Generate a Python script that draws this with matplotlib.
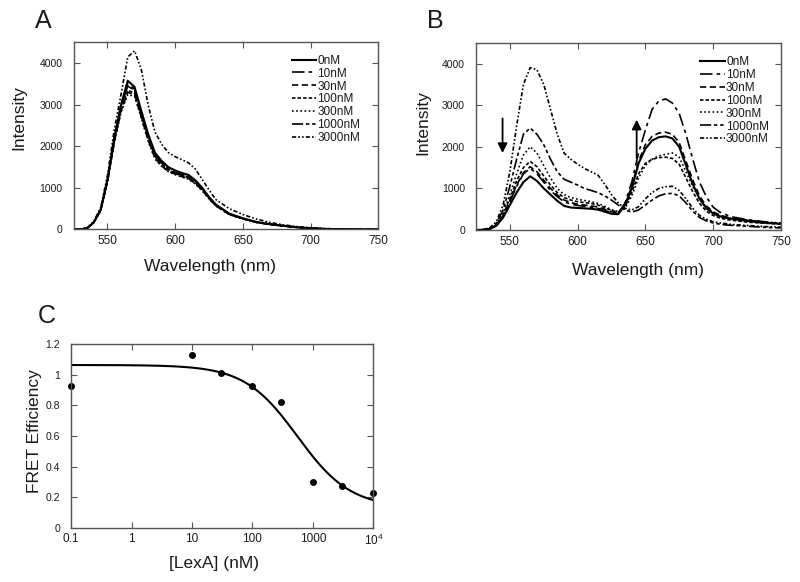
import numpy as np
import matplotlib
matplotlib.use("Agg")
import matplotlib.pyplot as plt

plt.rcParams['font.family'] = ['Liberation Sans', 'DejaVu Sans']
plt.rcParams['lines.scale_dashes'] = False

# ---------------- data ----------------
conc_labels = ["0nM", "10nM", "30nM", "100nM", "300nM", "1000nM", "3000nM"]

wl_A = [525, 530, 535, 540, 545, 550, 555, 560, 565, 570, 575, 580, 585, 590, 595,
        600, 605, 610, 615, 620, 625, 630, 640, 650, 660, 670, 680, 690, 700, 710,
        720, 730, 740, 750]
A_0 = [0, 5, 30, 180, 480, 1200, 2200, 3000, 3580, 3430, 2850, 2300, 1850, 1650, 1500,
       1420, 1360, 1310, 1180, 1000, 780, 600, 380, 270, 180, 130, 90, 55, 30, 15, 8, 4, 2, 0]
A_10 = [0, 5, 30, 175, 470, 1180, 2150, 2950, 3500, 3380, 2800, 2250, 1800, 1600, 1460,
        1380, 1320, 1270, 1150, 980, 770, 590, 370, 260, 175, 125, 85, 52, 28, 14, 7, 4, 2, 0]
A_30 = [0, 5, 28, 170, 460, 1150, 2100, 2850, 3300, 3250, 2700, 2150, 1720, 1530, 1400,
        1330, 1270, 1220, 1100, 940, 740, 570, 360, 255, 170, 120, 82, 50, 27, 14, 7, 4, 2, 0]
A_100 = [0, 5, 28, 172, 465, 1160, 2120, 2880, 3350, 3280, 2750, 2200, 1760, 1560, 1430,
         1350, 1290, 1240, 1120, 960, 760, 580, 365, 258, 172, 122, 84, 51, 28, 14, 7, 4, 2, 0]
A_300 = [0, 5, 28, 168, 455, 1140, 2080, 2820, 3250, 3200, 2680, 2130, 1700, 1520, 1390,
         1320, 1260, 1210, 1090, 930, 735, 565, 358, 254, 170, 120, 82, 50, 27, 14, 7, 4, 2, 0]
A_1000 = [0, 5, 30, 178, 475, 1190, 2180, 2980, 3450, 3350, 2800, 2250, 1790, 1590, 1450,
          1370, 1310, 1260, 1140, 970, 765, 585, 368, 262, 176, 126, 86, 52, 28, 14, 7, 4, 2, 0]
A_3000 = [0, 5, 35, 200, 530, 1300, 2400, 3250, 4150, 4300, 3850, 3000, 2350, 2050, 1850,
          1750, 1680, 1600, 1450, 1200, 950, 720, 500, 360, 250, 170, 110, 70, 40, 22, 12, 6, 3, 0]

wl_B = [525, 530, 535, 540, 545, 550, 555, 560, 565, 570, 575, 580, 585, 590, 595, 600,
        605, 610, 615, 620, 625, 630, 635, 640, 645, 650, 655, 660, 665, 670, 675, 680,
        685, 690, 695, 700, 705, 710, 715, 720, 725, 730, 735, 740, 745, 750]
B_0 = [0, 5, 20, 100, 300, 600, 900, 1150, 1290, 1180, 1000, 850, 700, 580, 540, 530,
       520, 510, 490, 440, 390, 380, 600, 1000, 1600, 1950, 2150, 2230, 2250, 2200, 2000, 1550,
       1100, 750, 520, 400, 330, 290, 260, 240, 220, 200, 180, 170, 160, 150]
B_10 = [0, 5, 25, 110, 330, 680, 1050, 1350, 1480, 1350, 1150, 950, 800, 680, 620, 590,
        570, 550, 520, 470, 420, 400, 650, 1150, 1850, 2400, 2900, 3100, 3150, 3050, 2800, 2300,
        1700, 1150, 800, 550, 430, 360, 310, 280, 250, 230, 210, 190, 170, 160]
B_30 = [0, 5, 25, 110, 340, 700, 1080, 1380, 1520, 1400, 1200, 1000, 840, 720, 660, 620,
        600, 580, 550, 500, 440, 410, 620, 1050, 1650, 2050, 2250, 2330, 2350, 2300, 2100, 1650,
        1200, 820, 580, 440, 360, 310, 280, 260, 240, 220, 200, 180, 170, 160]
B_100 = [0, 5, 30, 120, 360, 760, 1180, 1500, 1650, 1520, 1300, 1080, 900, 780, 720, 680,
         660, 640, 600, 540, 470, 430, 560, 900, 1350, 1600, 1700, 1740, 1750, 1720, 1580, 1250,
         920, 640, 450, 350, 290, 250, 230, 210, 190, 180, 170, 160, 150, 140]
B_300 = [0, 5, 30, 130, 400, 850, 1350, 1800, 2000, 1850, 1550, 1250, 1000, 850, 780, 740,
         710, 680, 640, 570, 490, 440, 520, 820, 1250, 1550, 1700, 1780, 1820, 1850, 1750, 1400,
         1050, 750, 550, 420, 350, 300, 270, 250, 230, 210, 200, 190, 180, 170]
B_1000 = [0, 5, 40, 160, 480, 1050, 1700, 2300, 2450, 2300, 2050, 1700, 1400, 1220, 1150, 1080,
          1000, 950, 900, 820, 720, 600, 480, 430, 480, 600, 720, 820, 870, 880, 820, 650,
          450, 300, 220, 170, 140, 120, 110, 100, 90, 80, 70, 60, 55, 50]
B_3000 = [0, 10, 50, 200, 600, 1400, 2500, 3500, 3900, 3850, 3500, 2900, 2300, 1850, 1700, 1580,
          1480, 1400, 1320, 1100, 850, 650, 520, 480, 560, 750, 900, 1000, 1040, 1050, 950, 750,
          520, 350, 260, 200, 170, 150, 130, 120, 110, 100, 90, 80, 75, 70]

lexa_nM = [0.1, 10, 30, 100, 300, 1000, 3000, 10000]
fret_eff = [0.93, 1.13, 1.015, 0.925, 0.82, 0.30, 0.275, 0.228]
# fitted binding curve parameters
fit_top, fit_bottom, fit_ec50, fit_hill = 1.065, 0.13, 555.0, 0.99

x_ticks_A = [550, 600, 650, 700, 750]
y_ticks_A = [0, 1000, 2000, 3000, 4000]
x_ticks_C = [0.1, 1, 10, 100, 1000, 10000]
x_ticklabels_C = ["0.1", "1", "10", "100", "1000", r"$\mathregular{10^4}$"]
y_ticks_C = [0, 0.2, 0.4, 0.6, 0.8, 1.0, 1.2]
y_ticklabels_C = ["0", "0.2", "0.4", "0.6", "0.8", "1", "1.2"]

# ---------------- styles ----------------
styles = [
    dict(linestyle='-', lw=1.5),
    dict(dashes=(9, 3, 2.5, 3), lw=1.2),
    dict(dashes=(4.5, 2.5), lw=1.2),
    dict(dashes=(2.5, 1.5), lw=1.2),
    dict(dashes=(1.2, 1.8), lw=1.2),
    dict(dashes=(8, 2, 2.5, 2, 2.5, 2), lw=1.2),
    dict(dashes=(3, 1.5, 1.2, 1.5, 1.2, 1.5), lw=1.2),
]

spine_col = '#555555'
txt_col = '#1a1a1a'

fig = plt.figure(figsize=(8.0, 5.82), dpi=100)

def style_axes(ax):
    for s in ax.spines.values():
        s.set_color(spine_col)
        s.set_linewidth(1.0)
    ax.tick_params(direction='in', top=True, right=True, length=4, width=0.8,
                   color=spine_col, labelcolor=txt_col)
    ax.tick_params(axis='x', labelsize=8.5, pad=4)
    ax.tick_params(axis='y', labelsize=7.5, pad=8)
    ax.tick_params(which='minor', top=False, bottom=False, left=False, right=False)

def spectra_panel(ax, wl, curves, leg_anchor):
    for y, lab, st in zip(curves, conc_labels, styles):
        ax.plot(wl, y, color='black', label=lab, **st)
    ax.set_xlim(525, 750)
    ax.set_ylim(0, 4500)
    ax.set_xticks(x_ticks_A)
    ax.set_yticks(y_ticks_A)
    style_axes(ax)
    leg = ax.legend(loc='upper left', bbox_to_anchor=leg_anchor, frameon=False,
                    fontsize=8.5, handlelength=2.1, handletextpad=0.1,
                    labelspacing=0.08, borderpad=0, borderaxespad=0)
    for t in leg.get_texts():
        t.set_color(txt_col)
    ax.set_ylabel("Intensity", fontsize=12.5, color=txt_col)
    ax.set_xlabel("Wavelength (nm)", fontsize=12.5, color=txt_col)

# Panel A
axA = fig.add_axes([0.092, 0.6057, 0.381, 0.3213])
spectra_panel(axA, wl_A, [A_0, A_10, A_30, A_100, A_300, A_1000, A_3000], (0.715, 0.935))
axA.yaxis.set_label_coords(-0.155, 0.60)
axA.xaxis.set_label_coords(0.448, -0.158)

# Panel B
axB = fig.add_axes([0.595, 0.6048, 0.381, 0.3218])
spectra_panel(axB, wl_B, [B_0, B_10, B_30, B_100, B_300, B_1000, B_3000], (0.735, 0.93))
axB.yaxis.set_label_coords(-0.151, 0.574)
axB.xaxis.set_label_coords(0.532, -0.176)
axB.annotate("", xy=(544.6, 1850), xytext=(544.6, 2680),
             arrowprops=dict(arrowstyle='-|>', color='black', lw=1.3,
                             mutation_scale=14, shrinkA=0, shrinkB=0))
axB.annotate("", xy=(643.6, 2650), xytext=(643.6, 1730),
             arrowprops=dict(arrowstyle='-|>', color='black', lw=1.3,
                             mutation_scale=14, shrinkA=0, shrinkB=0))

# Panel C
axC = fig.add_axes([0.0888, 0.0933, 0.378, 0.315])
xs = np.logspace(-1, 4, 300)
fit = fit_bottom + (fit_top - fit_bottom) / (1 + (xs / fit_ec50) ** fit_hill)
axC.plot(xs, fit, color='black', lw=1.5)
axC.plot(lexa_nM, fret_eff, 'o', color='black', ms=4, clip_on=False)
axC.set_xscale('log')
axC.set_xlim(0.1, 10000)
axC.set_ylim(0, 1.2)
axC.set_xticks(x_ticks_C)
axC.set_xticklabels(x_ticklabels_C)
axC.set_yticks(y_ticks_C)
axC.set_yticklabels(y_ticklabels_C)
style_axes(axC)
axC.set_ylabel("FRET Efficiency", fontsize=12.5, color=txt_col)
axC.set_xlabel("[LexA] (nM)", fontsize=12.5, color=txt_col)
axC.yaxis.set_label_coords(-0.096, 0.528)
axC.xaxis.set_label_coords(0.473, -0.155)

# Panel letters
fig.text(35 / 800, 1 - 28 / 582, "A", fontsize=18, color=txt_col, va='baseline')
fig.text(427 / 800, 1 - 28 / 582, "B", fontsize=18, color=txt_col, va='baseline')
fig.text(38 / 800, 1 - 323 / 582, "C", fontsize=18, color=txt_col, va='baseline')

fig.savefig("out.png", dpi=100, facecolor='white')
